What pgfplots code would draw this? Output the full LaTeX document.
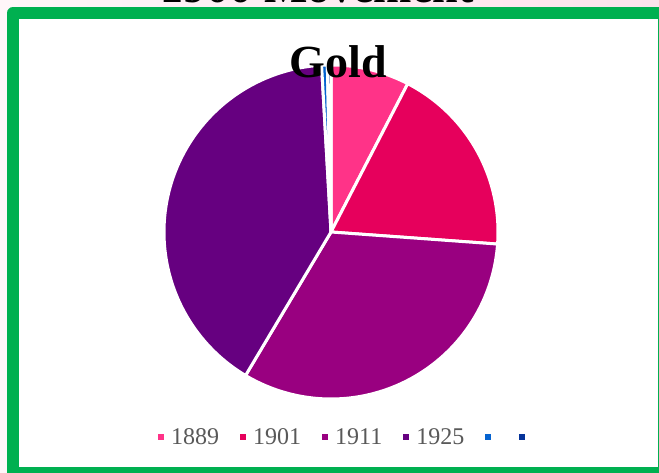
\documentclass[border=0pt]{standalone}
\usepackage{pgfplots}
\pgfplotsset{compat=1.18}
\usepackage{pgfplotstable}
\usepackage{fontspec}
\setmainfont{Liberation Serif}

\definecolor{c1}{HTML}{FF3388}
\definecolor{c2}{HTML}{E6005C}
\definecolor{c3}{HTML}{990080}
\definecolor{c4}{HTML}{660080}
\definecolor{c5}{HTML}{0563D0}
\definecolor{c6}{HTML}{063399}
\definecolor{framegreen}{HTML}{00B050}
\definecolor{bgleft}{HTML}{FFF6F9}
\definecolor{bgright}{HTML}{FCE3EC}
\definecolor{legtext}{HTML}{595959}

\pgfplotstableread{
value
7.6
18.55
32.4
40.55
0.55
0.35
}\piedata

\pgfplotstablegetelem{0}{value}\of\piedata \let\va\pgfplotsretval
\pgfplotstablegetelem{1}{value}\of\piedata \let\vb\pgfplotsretval
\pgfplotstablegetelem{2}{value}\of\piedata \let\vc\pgfplotsretval
\pgfplotstablegetelem{3}{value}\of\piedata \let\vd\pgfplotsretval
\pgfplotstablegetelem{4}{value}\of\piedata \let\ve\pgfplotsretval
\pgfplotstablegetelem{5}{value}\of\piedata \let\vf\pgfplotsretval
\pgfmathsetmacro\cA{\va}
\pgfmathsetmacro\cB{\cA+\vb}
\pgfmathsetmacro\cC{\cB+\vc}
\pgfmathsetmacro\cD{\cC+\vd}
\pgfmathsetmacro\cE{\cD+\ve}
\pgfmathsetmacro\cF{\cE+\vf}

\newcommand\pieslice[4]{%
  \pgfmathsetmacro\angA{90-3.6*(#2)}%
  \pgfmathsetmacro\angB{90-3.6*(#1)}%
  \edef\doslice{\noexpand\addplot[fill=#3, draw=white, line width=3pt, line join=round, domain=\angA:\angB, samples=120, variable=\noexpand\t] ({cos(\noexpand\t)},{sin(\noexpand\t)}) -- (axis cs:0,0) -- cycle;}%
  \doslice
  \addlegendentry{#4}}

\begin{document}
\begin{tikzpicture}
\useasboundingbox (0,0) rectangle (659pt,473pt);
\clip (0,0) rectangle (659pt,473pt);
\shade[left color=bgleft, right color=bgright] (0,0) rectangle (659pt,473pt);
% first title line, mostly cut off at the top
\node[anchor=base, font=\fontsize{46}{50}\selectfont\bfseries] at (317pt,470.5pt) {1900 Movement};
\draw[draw=framegreen, line width=12pt, line join=round, fill=white] (13pt,460pt) rectangle (664pt,0pt);

\begin{axis}[
  at={(331pt,241pt)}, anchor=center,
  width=334pt, height=334pt, scale only axis,
  xmin=-1, xmax=1, ymin=-1, ymax=1,
  hide axis, clip=false,
  legend image code/.code={\fill[#1] (0pt,-4.5pt) rectangle (9pt,4.5pt); \path (11pt,0pt);},
  legend columns=6,
  legend style={draw=none, fill=none, at={(-0.036,-0.115)}, anchor=west,
    font=\fontsize{24}{27}\selectfont, text=legtext,
    /tikz/every even column/.append style={column sep=16pt}},
]
\pieslice{0}{\cA}{c1}{1889}
\pieslice{\cA}{\cB}{c2}{1901}
\pieslice{\cB}{\cC}{c3}{1911}
\pieslice{\cC}{\cD}{c4}{1925}
\pieslice{\cD}{\cE}{c5}{}
\pieslice{\cE}{\cF}{c6}{}
\end{axis}

\node[anchor=base, font=\fontsize{46}{50}\selectfont\bfseries] at (338pt,395pt) {Gold};
\end{tikzpicture}
\end{document}
